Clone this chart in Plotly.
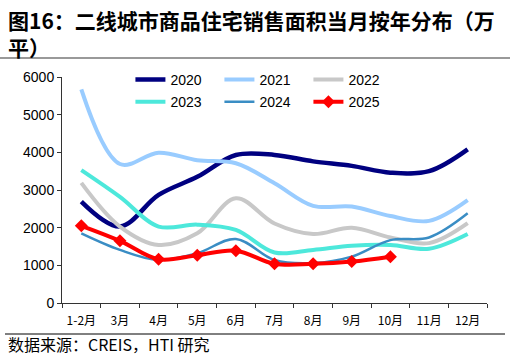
import plotly.graph_objects as go

months = ["1-2月", "3月", "4月", "5月", "6月", "7月", "8月", "9月", "10月", "11月", "12月"]
y2020 = [2690, 2030, 2870, 3350, 3930, 3930, 3760, 3640, 3460, 3500, 4080]
y2021 = [5670, 3690, 3990, 3790, 3710, 3180, 2580, 2560, 2310, 2180, 2730]
y2022 = [3190, 2030, 1540, 1850, 2780, 2110, 1830, 2000, 1740, 1590, 2120]
y2023 = [3530, 2820, 2030, 2080, 1940, 1340, 1410, 1520, 1540, 1440, 1830]
y2024 = [1850, 1410, 1140, 1320, 1700, 1140, 1060, 1230, 1670, 1740, 2380]
y2025 = [2050, 1650, 1160, 1270, 1390, 1040, 1040, 1100, 1230]

series = [
    ("2020", y2020, "#000080", 4.5, "legend"),
    ("2021", y2021, "#99CCFF", 4, "legend"),
    ("2022", y2022, "#C8C8C8", 4, "legend"),
    ("2023", y2023, "#4DE8DB", 4, "legend2"),
    ("2024", y2024, "#3A8DC4", 2.5, "legend2"),
]

fig = go.Figure()
for name, ys, color, w, lg in series:
    fig.add_trace(go.Scatter(
        x=months[:len(ys)], y=ys, name=name, mode="lines",
        line=dict(color=color, width=w, shape="spline", smoothing=1),
        legend=lg,
    ))
fig.add_trace(go.Scatter(
    x=months[:len(y2025)], y=y2025, name="2025", mode="lines+markers",
    line=dict(color="#FF0000", width=4, shape="spline", smoothing=1),
    marker=dict(symbol="diamond", size=10, color="#FF0000"),
    legend="legend2",
))

lat = "Liberation Sans, Arial, Noto Sans CJK SC"
cjk = "Noto Sans CJK SC, Liberation Sans"

leg = dict(orientation="h", xanchor="left", yanchor="middle",
           font=dict(family=lat, size=14, color="black"),
           entrywidth=44, bgcolor="rgba(0,0,0,0)", itemwidth=30)

fig.update_layout(
    width=510, height=360,
    margin=dict(l=62, r=23, t=77, b=57, autoexpand=False),
    paper_bgcolor="white", plot_bgcolor="white",
    showlegend=True,
    legend=dict(leg, x=0.161, y=0.987),
    legend2=dict(leg, x=0.161, y=0.889),
    xaxis=dict(type="category", categoryorder="array", categoryarray=months,
               range=[-0.5, 10.5], tickson="boundaries", ticks="outside", ticklen=4,
               tickcolor="#333", showline=True, linecolor="#333", linewidth=1,
               showgrid=False, zeroline=False, ticklabelstandoff=7,
               tickfont=dict(family=cjk, size=12, color="black")),
    yaxis=dict(range=[0, 6000], dtick=1000, ticks="outside", ticklen=4,
               tickcolor="#333", showline=True, linecolor="#333", linewidth=1,
               showgrid=False, zeroline=False,
               tickfont=dict(family=lat, size=14, color="black")),
)

fig.add_annotation(
    text="<b>图16：二线城市商品住宅销售面积当月按年分布（万<br>平）</b>",
    xref="paper", yref="paper", x=0, xshift=-62 + 6, y=1, yshift=74,
    xanchor="left", yanchor="top", align="left", showarrow=False,
    font=dict(family="Noto Sans CJK SC", size=21, color="black"),
)
fig.add_annotation(
    text="数据来源：CREIS，HTI 研究",
    xref="paper", yref="paper", x=0, xshift=-62 + 6, y=0, yshift=-57 + 2,
    xanchor="left", yanchor="bottom", align="left", showarrow=False,
    font=dict(family="Noto Sans CJK SC", size=16, color="black"),
)
fig.add_shape(type="line", xref="paper", yref="paper",
              x0=-62 / 425, x1=(510 - 62) / 425,
              y0=(303 - 58) / 226, y1=(303 - 58) / 226,
              line=dict(color="#999999", width=2))
fig.add_shape(type="line", xref="paper", yref="paper",
              x0=-57 / 425, x1=(505 - 62) / 425,
              y0=(303 - 334) / 226, y1=(303 - 334) / 226,
              line=dict(color="black", width=1))

fig.write_html("out.html", config={"displayModeBar": False},
               post_script="document.body.style.margin='0';document.body.style.overflow='hidden';")
